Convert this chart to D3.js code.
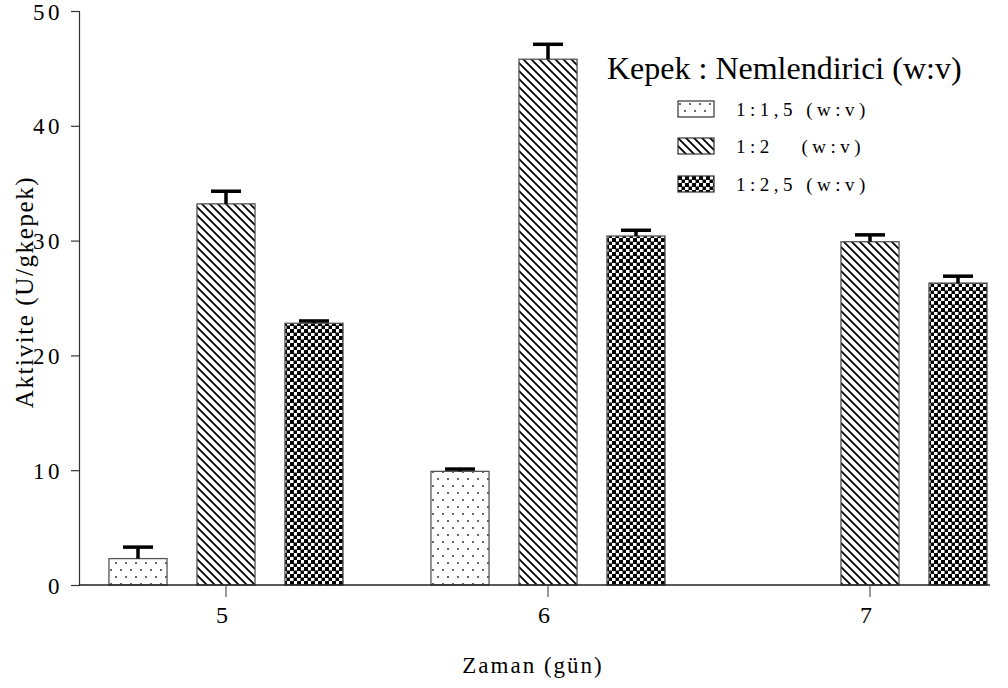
<!DOCTYPE html>
<html>
<head>
<meta charset="UTF-8">
<title>Aktivite</title>
<script src="https://d3js.org/d3.v7.min.js"></script>
<style>
  body { margin: 0; background: #fff; }
  svg text { font-family: "Liberation Serif", "Times New Roman", Times, serif !important; fill: #000; }
</style>
</head>
<body>
<svg width="1008" height="688"></svg>
<script>
  // data
  const days = ["5", "6", "7"];
  const ratios = ["1:1,5", "1:2", "1:2,5"];
  const legendLabels = ["1:1,5 (w:v)", "1:2   (w:v)", "1:2,5 (w:v)"];
  const means = [
    [2.3, 33.2, 22.8],
    [9.9, 45.8, 30.4],
    [0, 29.9, 26.3]
  ];
  const errs = [
    [1.0, 1.1, 0.2],
    [0.2, 1.3, 0.5],
    [0, 0.6, 0.6]
  ];
  const yTicks = [0, 10, 20, 30, 40, 50];

  const serif = "'Liberation Serif', 'Times New Roman', serif";
  const svg = d3.select("svg");
  const defs = svg.append("defs");

  // dotted
  const pDot = defs.append("pattern").attr("id", "p0")
    .attr("patternUnits", "userSpaceOnUse").attr("width", 10).attr("height", 14);
  pDot.append("rect").attr("width", 10).attr("height", 14).attr("fill", "#fff");
  pDot.append("circle").attr("cx", 2).attr("cy", 3).attr("r", 0.9).attr("fill", "#222");
  pDot.append("circle").attr("cx", 7).attr("cy", 10).attr("r", 0.9).attr("fill", "#222");

  // diagonal hatch
  const pHatch = defs.append("pattern").attr("id", "p1")
    .attr("patternUnits", "userSpaceOnUse").attr("width", 8).attr("height", 8);
  pHatch.append("rect").attr("width", 8).attr("height", 8).attr("fill", "#fff");
  pHatch.append("path").attr("d", "M-2,-2L10,10M-2,6L2,10M6,-2L10,2")
    .attr("stroke", "#000").attr("stroke-width", 1.8);

  // checker
  const pCheck = defs.append("pattern").attr("id", "p2")
    .attr("patternUnits", "userSpaceOnUse").attr("width", 7).attr("height", 7);
  pCheck.append("rect").attr("width", 7).attr("height", 7).attr("fill", "#fff");
  pCheck.append("rect").attr("width", 4).attr("height", 4).attr("fill", "#000");
  pCheck.append("rect").attr("x", 3.5).attr("y", 3.5).attr("width", 4).attr("height", 4).attr("fill", "#000");

  const x0 = d3.scaleBand().domain(days).range([72, 1038]).paddingInner(0).paddingOuter(0);
  const x1 = d3.scaleBand().domain(ratios).range([0, 264]).paddingInner(0.34).paddingOuter(0.17);
  const y = d3.scaleLinear().domain([0, 50]).range([585, 11]);

  // y axis
  const yAxis = svg.append("g").attr("transform", "translate(79,0)")
    .call(d3.axisLeft(y).tickValues(yTicks).tickSize(8).tickPadding(8));
  yAxis.attr("font-family", null).attr("font-size", null);
  yAxis.select(".domain").attr("stroke", "#333").attr("stroke-width", 1.2);
  yAxis.selectAll(".tick line").attr("stroke", "#333").attr("stroke-width", 1.2);
  yAxis.selectAll(".tick text")
    .style("font-family", serif).style("font-size", "23px")
    .style("letter-spacing", "3.5px").attr("dy", "0.35em").attr("fill", "#000");

  // bars
  const groups = svg.append("g").selectAll("g").data(days).join("g")
    .attr("transform", d => `translate(${x0(d) + 22},0)`);

  groups.each(function(day, gi) {
    const g = d3.select(this);
    ratios.forEach((r, si) => {
      const v = means[gi][si];
      if (v <= 0) return;
      g.append("rect")
        .attr("x", x1(r)).attr("y", y(v))
        .attr("width", x1.bandwidth()).attr("height", y(0) - y(v))
        .attr("fill", `url(#p${si})`).attr("stroke", "#555").attr("stroke-width", 1.3);
      const cx = x1(r) + x1.bandwidth() / 2;
      const top = y(v + errs[gi][si]);
      g.append("line").attr("x1", cx).attr("x2", cx).attr("y1", y(v)).attr("y2", top)
        .attr("stroke", "#000").attr("stroke-width", 3.5);
      g.append("line").attr("x1", cx - 15).attr("x2", cx + 15).attr("y1", top).attr("y2", top)
        .attr("stroke", "#000").attr("stroke-width", 3.5);
    });
  });

  // x axis
  const xCenter = d => x0(d) + 22 + x1("1:2") + x1.bandwidth() / 2;
  svg.append("line").attr("x1", 79).attr("x2", 990).attr("y1", 585).attr("y2", 585)
    .attr("stroke", "#222").attr("stroke-width", 1.3);
  const xt = svg.append("g").selectAll("g").data(days).join("g")
    .attr("transform", d => `translate(${xCenter(d)},585)`);
  xt.append("line").attr("y2", 12).attr("stroke", "#555").attr("stroke-width", 1.2);
  xt.append("text").attr("x", -4).attr("y", 38).attr("text-anchor", "middle")
    .style("font-family", serif).style("font-size", "24px").text(d => d);

  // axis titles
  svg.append("text").attr("x", 533).attr("y", 673).attr("text-anchor", "middle")
    .style("font-family", serif).style("font-size", "23px").style("letter-spacing", "2px")
    .text("Zaman (gün)");
  svg.append("text").attr("transform", "translate(33,292) rotate(-90)")
    .attr("text-anchor", "middle").style("font-family", serif)
    .style("font-size", "25px").style("letter-spacing", "1.6px").text("Aktivite (U/gkepek)");

  // legend
  svg.append("text").attr("x", 607).attr("y", 79).style("font-family", serif)
    .style("font-size", "32px").text("Kepek : Nemlendirici (w:v)");
  const leg = svg.append("g").selectAll("g").data(ratios).join("g")
    .attr("transform", (d, i) => `translate(678,${101 + [0, 37, 75][i]})`);
  leg.append("rect").attr("width", 36).attr("height", 16)
    .attr("fill", (d, i) => `url(#p${i})`).attr("stroke", "#333").attr("stroke-width", 1.2);
  leg.append("text").attr("x", 58).attr("y", 15).style("font-family", serif)
    .style("font-size", "19px").style("letter-spacing", "4.5px").style("white-space", "pre")
    .text((d, i) => legendLabels[i]);
</script>
</body>
</html>
